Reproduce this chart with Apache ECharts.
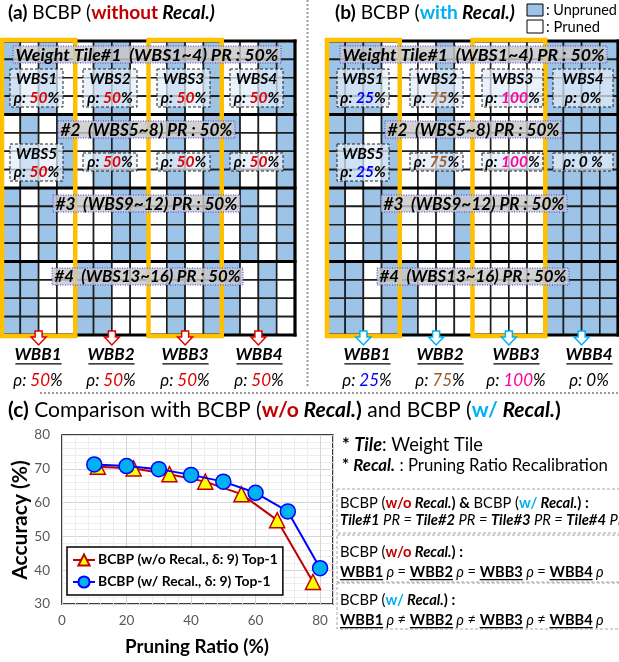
<!DOCTYPE html>
<html><head><meta charset="utf-8">
<script src="https://cdn.jsdelivr.net/npm/echarts@6/dist/echarts.min.js"></script>
<style>html,body{margin:0;padding:0;background:#fff}#c{width:619px;height:662px}</style>
</head><body><div id="c"></div>
<script>
// ---------------- DATA ----------------
// Column masks per weight tile (1 = unpruned / blue, 0 = pruned / white), 16 columns = 4 WBB x 4 cols
const maskA_tile1 = [1,0,1,0, 0,1,1,0, 0,1,0,1, 0,0,1,1];
const maskA_tile2 = [0,1,0,1, 0,1,1,0, 0,1,0,1, 1,0,0,1];
const maskA_tile3 = [1,0,1,0, 0,0,1,1, 0,1,0,1, 0,1,0,1];
const maskA_tile4 = [1,1,0,0, 1,1,0,0, 0,1,0,1, 1,0,1,0];
const maskB_tile1 = [1,1,1,0, 0,0,1,0, 0,0,0,0, 1,1,1,1];
const maskB_tile2 = [1,1,0,1, 0,0,1,0, 0,0,0,0, 1,1,1,1];
const maskB_tile3 = [1,0,1,1, 0,0,0,1, 0,0,0,0, 1,1,1,1];
const maskB_tile4 = [1,1,0,1, 1,0,0,0, 0,0,0,0, 1,1,1,1];
const highlightedWBB = [0, 2];           // WBB blocks outlined in yellow
const wbbIndex = [0, 1, 2, 3];
const wbbNames = ['WBB1', 'WBB2', 'WBB3', 'WBB4'];
const rhoA = ['50', '50', '50', '50'];
const rhoB = ['25', '75', '100', '0'];
const tileRows = [0, 4, 8, 12, 16];

// Chart (c)
const prWoRecal  = [11.1, 22.2, 33.3, 44.4, 55.6, 66.7, 77.8];
const accWoRecal = [70.6, 70.1, 68.4, 66.2, 62.5, 54.8, 36.5];
const prWRecal   = [10, 20, 30, 40, 50, 60, 70, 80];
const accWRecal  = [71.3, 70.8, 69.9, 68.2, 66.2, 62.9, 57.4, 40.6];
const xTicks = [0, 20, 40, 60, 80];
const seriesNames = ['BCBP (w/o Recal., \u03b4: 9) Top-1', 'BCBP (w/ Recal., \u03b4: 9) Top-1'];

// ---------------- STYLE ----------------
const FONT = 'Lato, "DejaVu Sans", sans-serif';
const BLUE = '#9DC3E6';
const RED = '#C00000';
const RED2 = '#E00000';
const CYAN = '#00B0F0';
const rhoColorsB = ['#0000FF', '#9C5B27', '#FF0099', '#000000'];

// ---------------- TEXT HELPERS ----------------
const els = [];
const mctx = document.createElement('canvas').getContext('2d');
function fontStr(s, size) { return (s.i ? 'italic ' : '') + (s.b ? 'bold ' : '') + size + 'px ' + FONT; }
function measure(t, s, size) { mctx.font = fontStr(s, size); return mctx.measureText(t).width; }
function T(x, y, segs, size, opt) {
  opt = opt || {};
  let total = segs.reduce((a, s) => a + measure(s.t, s, size), 0);
  if (opt.fit) { size = size * opt.fit / total; total = segs.reduce((a, s) => a + measure(s.t, s, size), 0); }
  let cx = opt.center ? x - total / 2 : x;
  segs.forEach(s => {
    const w = measure(s.t, s, size);
    els.push({ type: 'text', z: 52, x: cx, y: y, style: { text: s.t, font: fontStr(s, size), fill: s.c || '#000',
      textAlign: 'left', align: 'left', textVerticalAlign: 'middle', verticalAlign: 'middle' } });
    if (s.u) {
      const uy = y + size * 0.52;
      els.push({ type: 'line', z: 52, shape: { x1: cx + (s.i ? 1 : 0), y1: uy, x2: cx + w, y2: uy }, style: { stroke: s.c || '#000', lineWidth: Math.max(1, size / 13) } });
    }
    cx += w;
  });
  return size;
}
const N = (t, c) => ({ t, c });
const B = (t, c) => ({ t, b: 1, c });
const I = (t, c) => ({ t, i: 1, c });
const BI = (t, c) => ({ t, b: 1, i: 1, c });
const BIU = (t, c) => ({ t, b: 1, i: 1, u: 1, c });
const BU = (t, c) => ({ t, b: 1, u: 1, c });

function rect(x, y, w, h, style, z) { els.push({ type: 'rect', z: z || 50, shape: { x, y, width: w, height: h }, style }); }
function line(x1, y1, x2, y2, style, z) { els.push({ type: 'line', z: z || 50, shape: { x1, y1, x2, y2 }, style }); }

// ---------------- BUILD CELLS ----------------
function buildCells(masks) {
  const out = [];
  masks.forEach((m, t) => { for (let r = 0; r < 4; r++) for (let c = 0; c < 16; c++) out.push([c, t * 4 + r, m[c]]); });
  return out;
}
const cellsA = buildCells([maskA_tile1, maskA_tile2, maskA_tile3, maskA_tile4]);
const cellsB = buildCells([maskB_tile1, maskB_tile2, maskB_tile3, maskB_tile4]);

function cellRender(params, api) {
  const c = api.value(0), r = api.value(1), v = api.value(2);
  const p0 = api.coord([c, r]), p1 = api.coord([c + 1, r + 1]);
  return { type: 'rect', shape: { x: Math.min(p0[0], p1[0]), y: Math.min(p0[1], p1[1]), width: Math.abs(p1[0] - p0[0]), height: Math.abs(p1[1] - p0[1]) },
    style: { fill: v ? BLUE : '#FFFFFF', stroke: '#1E1E1E', lineWidth: 1.6 } };
}
function hLineRender(params, api) {
  const v = api.value(0); const a = api.coord([0, v]), b = api.coord([16, v]);
  return { type: 'line', shape: { x1: a[0] - 1.5, y1: a[1], x2: b[0] + 1.5, y2: b[1] }, style: { stroke: '#000', lineWidth: 3.2 } };
}
function vLineRender(params, api) {
  const v = api.value(0); const a = api.coord([v, 0]), b = api.coord([v, 16]);
  return { type: 'line', shape: { x1: a[0], y1: a[1] - 1.5, x2: b[0], y2: b[1] + 1.5 }, style: { stroke: '#000', lineWidth: 3.2 } };
}
function yellowRender(params, api) {
  const w = api.value(0); const a = api.coord([w * 4, 0]), b = api.coord([w * 4 + 4, 16]);
  return { type: 'rect', shape: { x: a[0], y: a[1] - 1, width: b[0] - a[0], height: b[1] - a[1] + 2 }, style: { fill: 'none', stroke: '#FFC000', lineWidth: 4.5 } };
}
function arrowRender(color) {
  return function (params, api) {
    const w = api.value(0); const p = api.coord([w * 4 + 2, 16]);
    const cx = p[0], y0 = p[1] - 4;
    return { type: 'polygon', shape: { points: [[cx - 3.5, y0], [cx + 3.5, y0], [cx + 3.5, y0 + 6], [cx + 7.5, y0 + 6], [cx, y0 + 14], [cx - 7.5, y0 + 6], [cx - 3.5, y0 + 6]] },
      style: { fill: '#fff', stroke: color, lineWidth: 1.5 } };
  };
}
function panelSeries(ax, cells, arrowColor) {
  return [
    { type: 'custom', xAxisIndex: ax, yAxisIndex: ax, data: cells, renderItem: cellRender, z: 2, silent: true },
    { type: 'custom', xAxisIndex: ax, yAxisIndex: ax, data: tileRows.map(v => [v]), renderItem: hLineRender, z: 3, silent: true },
    { type: 'custom', xAxisIndex: ax, yAxisIndex: ax, data: [[0], [16]], renderItem: vLineRender, z: 3, silent: true },
    { type: 'custom', xAxisIndex: ax, yAxisIndex: ax, data: highlightedWBB.map(v => [v]), renderItem: yellowRender, z: 4, silent: true },
    { type: 'custom', xAxisIndex: ax, yAxisIndex: ax, data: wbbIndex.map(v => [v]), renderItem: arrowRender(arrowColor), z: 5, silent: true }
  ];
}

// ---------------- ANNOTATIONS ----------------
// titles
T(8, 13, [B('(a)'), N(' BCBP ('), B('without', RED), BI(' Recal.)')], 17, { fit: 207 });
T(335, 13, [B('(b)'), N(' BCBP ('), B('with', CYAN), BI(' Recal.)')], 17, { fit: 180 });
// top-right key
rect(527, 4, 16, 12, { fill: BLUE, stroke: '#000', lineWidth: 1 });
T(546, 10, [N(': Unpruned')], 14, { fit: 71 });
rect(527, 20, 16, 13, { fill: '#fff', stroke: '#000', lineWidth: 1 });
T(546, 27, [N(': Pruned')], 14, { fit: 54 });
// separators
line(307.5, 0, 307.5, 386, { stroke: '#9A9A9A', lineWidth: 2, lineDash: [2, 2] });
line(40, 393, 619, 393, { stroke: '#9A9A9A', lineWidth: 2, lineDash: [2, 2] });

function tileLabel(x0, x1, y0, y1, text) {
  rect(x0, y0, x1 - x0, y1 - y0, { fill: 'rgba(200,200,200,0.82)', stroke: '#3A3AFF', lineWidth: 1, lineDash: [1, 1.5] });
  T((x0 + x1) / 2, (y0 + y1) / 2 + 0.5, [BI(text)], 16, { fit: x1 - x0 - 5, center: true });
}
function wbsBox(x0, x1, y0, y1) {
  rect(x0, y0, x1 - x0, y1 - y0, { fill: 'rgba(226,237,249,0.72)', stroke: '#222', lineWidth: 1, lineDash: [3, 2] });
}
function rhoSegs(v, col, sp) { return [BI('\u03c1: '), BI(v, col), BI((sp ? ' ' : '') + '%')]; }
const BOXFS = 15.5;

// Panel (a) labels
tileLabel(13, 281, 46, 63, 'Weight Tile#1  (WBS1~4) PR : 50%');
const boxXA = [[10, 63], [83, 137], [157, 210], [230, 283]];
boxXA.forEach((bx, k) => {
  wbsBox(bx[0], bx[1], 69, 107);
  const cx = (bx[0] + bx[1]) / 2;
  T(cx, 79, [BI('WBS' + (k + 1))], BOXFS, { center: true });
  T(cx, 97.5, rhoSegs(rhoA[k], RED2), BOXFS, { center: true });
});
tileLabel(58, 235, 121, 138, '#2  (WBS5~8) PR : 50%');
boxXA.forEach((bx, k) => {
  const cx = (bx[0] + bx[1]) / 2;
  if (k === 0) {
    wbsBox(bx[0], bx[1], 144, 181);
    T(cx, 153.5, [BI('WBS5')], BOXFS, { center: true });
    T(cx, 172, rhoSegs(rhoA[k], RED2), BOXFS, { center: true });
  } else {
    wbsBox(bx[0], bx[1], 153, 171);
    T(cx, 162, rhoSegs(rhoA[k], RED2), BOXFS, { center: true });
  }
});
tileLabel(53, 240, 195, 212, '#3  (WBS9~12) PR : 50%');
tileLabel(52, 243, 268, 285, '#4  (WBS13~16) PR : 50%');

// Panel (b) labels
tileLabel(340, 607, 46, 63, 'Weight Tile#1  (WBS1~4) PR : 50%');
const boxXB = [[337, 389], [410, 463], [482, 543], [553, 613]];
boxXB.forEach((bx, k) => {
  wbsBox(bx[0], bx[1], 69, 107);
  const cx = (bx[0] + bx[1]) / 2;
  T(cx, 79, [BI('WBS' + (k + 1))], BOXFS, { center: true });
  T(cx, 97.5, rhoSegs(rhoB[k], rhoColorsB[k]), BOXFS, { center: true });
});
tileLabel(385, 562, 121, 138, '#2  (WBS5~8) PR : 50%');
boxXB.forEach((bx, k) => {
  const cx = (bx[0] + bx[1]) / 2;
  if (k === 0) {
    wbsBox(bx[0], bx[1], 144, 181);
    T(cx, 153.5, [BI('WBS5')], BOXFS, { center: true });
    T(cx, 172, rhoSegs(rhoB[k], rhoColorsB[k]), BOXFS, { center: true });
  } else {
    wbsBox(bx[0], bx[1], 153, 171);
    T(cx, 162, rhoSegs(rhoB[k], rhoColorsB[k], k === 3), BOXFS, { center: true });
  }
});
tileLabel(381, 567, 195, 212, '#3  (WBS9~12) PR : 50%');
tileLabel(377, 569, 268, 285, '#4  (WBS13~16) PR : 50%');

// WBB labels under the panels
const wbbXA = [38, 111, 185, 259];
const wbbXB = [367, 440, 516, 589];
wbbNames.forEach((n, k) => {
  T(wbbXA[k], 355, [BIU(n)], 17, { center: true });
  T(wbbXA[k], 381, [I('\u03c1: '), I(rhoA[k], RED2), I('%')], 17, { center: true });
  T(wbbXB[k], 355, [BIU(n)], 17, { center: true });
  T(wbbXB[k], 381, [I('\u03c1: '), I(rhoB[k], rhoColorsB[k]), I('%')], 17, { center: true });
});

// (c) title
T(8, 410, [B('(c)'), N(' Comparison with BCBP ('), B('w/o', RED), BI(' Recal.'), B(')'), N(' and BCBP ('), B('w/', CYAN), BI(' Recal.'), B(')')], 17, { fit: 553 });
// axis titles
els.push({ type: 'text', z: 52, x: 20, y: 520, rotation: Math.PI / 2,
  style: { text: 'Accuracy (%)', font: 'bold 21px ' + FONT, fill: '#000', textAlign: 'center', align: 'center', textVerticalAlign: 'middle', verticalAlign: 'middle' } });
T(197, 647, [B('Pruning Ratio (%)')], 20, { center: true, fit: 144 });

// right-hand notes
T(342, 445, [B('* '), BI('Tile'), N(': Weight Tile')], 15, { fit: 141 });
T(342, 466, [B('* '), BI('Recal.'), N(' : Pruning Ratio Recalibration')], 15, { fit: 266 });
const dashStyle = { fill: 'none', stroke: '#A6A6A6', lineWidth: 1, lineDash: [3, 2] };
rect(337, 489, 300, 44, dashStyle);
rect(337, 535, 300, 47, dashStyle);
rect(337, 583, 300, 46, dashStyle);
const s1 = T(340, 503, [N('BCBP ('), B('w/o', RED), BI(' Recal.'), B(') & '), N('BCBP ('), B('w/', CYAN), BI(' Recal.'), B(') :')], 14, { fit: 249 });
T(340, 520, [BI('Tile#1'), I(' PR = '), BI('Tile#2'), I(' PR = '), BI('Tile#3'), I(' PR = '), BI('Tile#4'), I(' PR')], s1);
T(340, 552, [N('BCBP ('), B('w/o', RED), BI(' Recal.'), B(') :')], s1);
const s2 = T(340, 572, [BU('WBB1'), I(' \u03c1 '), N('= '), BU('WBB2'), I(' \u03c1 '), N('= '), BU('WBB3'), I(' \u03c1 '), N('= '), BU('WBB4'), I(' \u03c1')], 15, { fit: 264 });
T(340, 600, [N('BCBP ('), B('w/', CYAN), BI(' Recal.'), B(') :')], s1);
T(340, 620, [BU('WBB1'), I(' \u03c1 '), N('\u2260 '), BU('WBB2'), I(' \u03c1 '), N('\u2260 '), BU('WBB3'), I(' \u03c1 '), N('\u2260 '), BU('WBB4'), I(' \u03c1')], s2);

// legend font size fitted to the reference width
let legSize = 14 * 180 / measure(seriesNames[0], { b: 1 }, 14);

// ---------------- CHART ----------------
const chart = echarts.init(document.getElementById('c'), null, { renderer: 'canvas' });
const axisLabelStyle = { color: '#595959', fontSize: 13.5, fontFamily: FONT };
const option = {
  animation: false,
  backgroundColor: '#fff',
  grid: [
    { left: 2, top: 41, width: 293, height: 294, containLabel: false },
    { left: 327, top: 41, width: 291, height: 294, containLabel: false },
    { left: 62, top: 435, width: 271, height: 169, show: true, borderColor: '#000', borderWidth: 1.5, backgroundColor: '#fff', containLabel: false }
  ],
  xAxis: [
    { gridIndex: 0, type: 'value', min: 0, max: 16, show: false },
    { gridIndex: 1, type: 'value', min: 0, max: 16, show: false },
    { gridIndex: 2, type: 'value', min: xTicks[0], max: 84, interval: 20,
      axisLine: { show: false }, axisTick: { show: false },
      axisLabel: Object.assign({ margin: 10, showMaxLabel: false, showMinLabel: true }, axisLabelStyle),
      splitLine: { show: true, lineStyle: { color: '#D4D4D4', width: 1 } },
      minorTick: { show: false, splitNumber: 5 },
      minorSplitLine: { show: true, lineStyle: { color: '#EDEDED', width: 1 } } }
  ],
  yAxis: [
    { gridIndex: 0, type: 'value', min: 0, max: 16, inverse: true, show: false },
    { gridIndex: 1, type: 'value', min: 0, max: 16, inverse: true, show: false },
    { gridIndex: 2, type: 'value', min: 30, max: 80, interval: 10,
      axisLine: { show: false }, axisTick: { show: false },
      axisLabel: Object.assign({ margin: 12 }, axisLabelStyle),
      splitLine: { show: true, lineStyle: { color: '#D4D4D4', width: 1 } },
      minorTick: { show: false, splitNumber: 5 },
      minorSplitLine: { show: true, lineStyle: { color: '#EDEDED', width: 1 } } }
  ],
  legend: {
    data: seriesNames, orient: 'vertical', left: 67, top: 547,
    padding: [6, 5, 6, 5], itemGap: 8, itemWidth: 22, itemHeight: 14,
    backgroundColor: '#fff', borderColor: '#000', borderWidth: 1.5,
    textStyle: { fontFamily: FONT, fontWeight: 'bold', fontSize: legSize, color: '#000', padding: [0, 0, 0, -2] }
  },
  series: [].concat(
    panelSeries(0, cellsA, '#E00000'),
    panelSeries(1, cellsB, CYAN),
    [
      { type: 'line', name: seriesNames[0], xAxisIndex: 2, yAxisIndex: 2, z: 6,
        data: prWoRecal.map((x, i) => [x, accWoRecal[i]]),
        symbol: 'triangle', symbolSize: 15,
        lineStyle: { color: '#C00000', width: 2 },
        itemStyle: { color: '#FFFF00', borderColor: '#C00000', borderWidth: 1.5 } },
      { type: 'line', name: seriesNames[1], xAxisIndex: 2, yAxisIndex: 2, z: 7,
        data: prWRecal.map((x, i) => [x, accWRecal[i]]),
        symbol: 'circle', symbolSize: 15,
        lineStyle: { color: '#0000FF', width: 2 },
        itemStyle: { color: '#00B0F0', borderColor: '#0000FF', borderWidth: 1.5 } }
    ]
  ),
  graphic: { elements: els }
};
chart.setOption(option);
</script></body></html>
